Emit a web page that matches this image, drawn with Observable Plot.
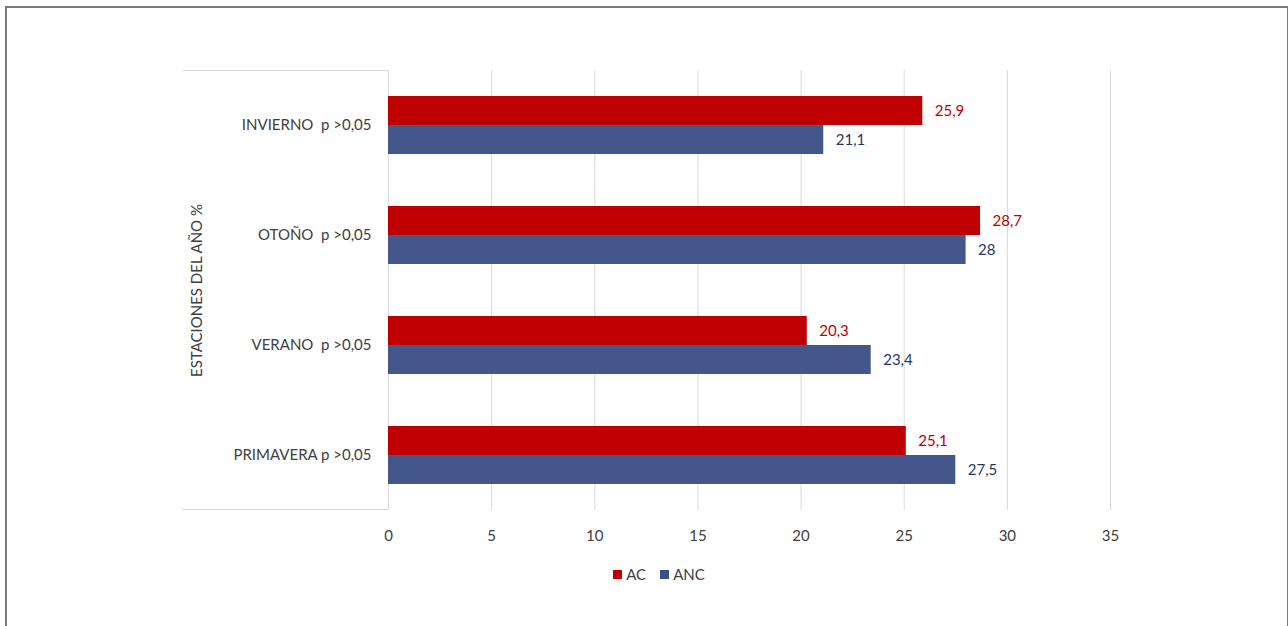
<!DOCTYPE html>
<html>
<head>
<meta charset="utf-8">
<script src="https://cdn.jsdelivr.net/npm/d3@7"></script>
<script src="https://cdn.jsdelivr.net/npm/@observablehq/plot@0.6"></script>
<style>
  html, body { margin: 0; padding: 0; background: #fff; width: 1288px; height: 626px; overflow: hidden; font-family: Lato, "Open Sans", sans-serif; }
  #frame { position: absolute; left: 5px; top: 6px; width: 1280px; height: 640px; border: 2px solid #7a7a7a; border-bottom: none; }
  #chart { position: absolute; left: 0; top: 0; }
  .hline { position: absolute; left: 182px; width: 206px; height: 1px; background: #d9d9d9; }
  #legend { position: absolute; top: 565px; left: 0; width: 1288px; display: flex; justify-content: center; gap: 14px; font-size: 15px; color: #404040; padding-left: 30px; box-sizing: border-box; }
  #legend span.item { display: inline-flex; align-items: center; gap: 4px; }
  #legend i { display: inline-block; width: 9px; height: 9px; }
</style>
</head>
<body>
<div id="frame"></div>
<div class="hline" style="top:70px"></div>
<div class="hline" style="top:509px"></div>
<div id="chart"></div>
<div id="legend"></div>
<script>
const categories = ["INVIERNO  p >0,05", "OTOÑO  p >0,05", "VERANO  p >0,05", "PRIMAVERA p >0,05"];
const series = ["AC", "ANC"];
const valuesAC = [25.9, 28.7, 20.3, 25.1];
const valuesANC = [21.1, 28.0, 23.4, 27.5];
const xTicks = [0, 5, 10, 15, 20, 25, 30, 35];
const colors = {AC: "#C00000", ANC: "#3B5085"};
const labelColors = {AC: "#C00000", ANC: "#1F3864"};

const dataAC = categories.map((c, i) => ({cat: c, value: valuesAC[i]}));
const dataANC = categories.map((c, i) => ({cat: c, value: valuesANC[i]}));
const fmt = v => String(v).replace(".", ",");

const font = "Lato, 'Open Sans', sans-serif";
const plot = Plot.plot({
  width: 1288,
  height: 545,
  marginLeft: 388,
  marginRight: 178,
  marginTop: 70,
  marginBottom: 35,
  style: {fontFamily: font, fontSize: "15px", color: "#404040", background: "transparent"},
  x: {domain: [0, 35], ticks: xTicks},
  y: {domain: categories, padding: 0},
  marks: [
    Plot.gridX(xTicks.slice(1), {stroke: "#d9d9d9", strokeOpacity: 1}),
    Plot.ruleX([0], {stroke: "#d9d9d9"}),
    Plot.barX(dataAC, {x: "value", y: "cat", fill: colors.AC, insetTop: 26, insetBottom: 55}),
    Plot.barX(dataANC, {x: "value", y: "cat", fill: colors.ANC, fillOpacity: 0.96, insetTop: 55, insetBottom: 26}),
    Plot.text(dataAC, {x: "value", y: "cat", text: d => fmt(d.value), dy: -14, dx: 12, textAnchor: "start", fill: labelColors.AC, fontSize: 15}),
    Plot.text(dataANC, {x: "value", y: "cat", text: d => fmt(d.value), dy: 15, dx: 12, textAnchor: "start", fill: labelColors.ANC, fontSize: 15}),
    Plot.axisX({ticks: xTicks, tickSize: 0, tickPadding: 20, label: null, fill: "#404040", fontSize: 15}),
    Plot.axisY({tickSize: 0, tickPadding: 17, label: "ESTACIONES DEL AÑO %", labelAnchor: "center", labelOffset: 197, fill: "#404040", fontSize: 15})
  ]
});
document.getElementById("chart").appendChild(plot);

const legend = document.getElementById("legend");
series.forEach(s => {
  const item = document.createElement("span");
  item.className = "item";
  item.innerHTML = `<i style="background:${colors[s]}"></i>${s}`;
  legend.appendChild(item);
});
</script>
</body>
</html>
